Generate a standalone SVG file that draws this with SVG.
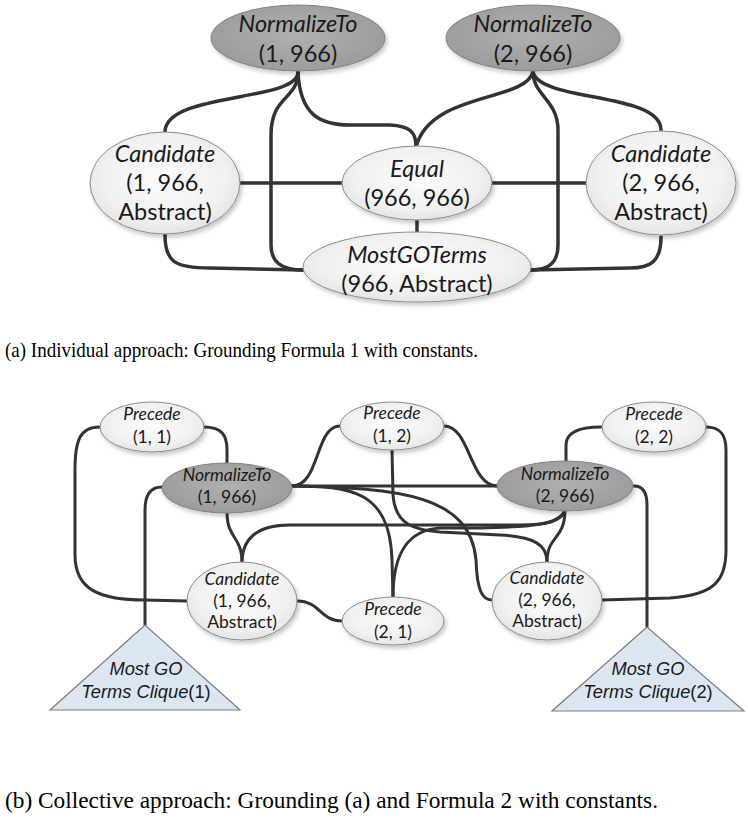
<svg xmlns="http://www.w3.org/2000/svg" width="748" height="822" viewBox="0 0 748 822">
<defs>
<radialGradient id="gl" cx="50%" cy="45%" r="60%">
<stop offset="0%" stop-color="#fcfcfc"/><stop offset="70%" stop-color="#f0f0f0"/><stop offset="100%" stop-color="#e0e0e0"/>
</radialGradient>
<radialGradient id="gd" cx="50%" cy="45%" r="60%">
<stop offset="0%" stop-color="#b0b0b0"/><stop offset="100%" stop-color="#9a9a9a"/>
</radialGradient>
<filter id="sh" x="-20%" y="-20%" width="140%" height="150%">
<feDropShadow dx="2" dy="3" stdDeviation="2" flood-color="#000" flood-opacity="0.22"/>
</filter>
</defs>
<style>
.lt{fill:url(#gl);stroke:#8c8c8c;stroke-width:1;filter:url(#sh)}
.dk{fill:url(#gd);stroke:#808080;stroke-width:1;filter:url(#sh)}
.tri{fill:#dce6f2;stroke:#7f7f7f;stroke-width:1.2}
.ea path{fill:none;stroke:#333;stroke-width:3.5;stroke-linecap:round}
.eb path{fill:none;stroke:#333;stroke-width:3;stroke-linecap:round}
.ta{font-family:Lato,"Liberation Sans",sans-serif;font-size:23.5px;fill:#1a1a1a;text-anchor:middle}
.tb{font-family:Lato,"Liberation Sans",sans-serif;font-size:17.5px;fill:#1a1a1a;text-anchor:middle}
.tt{font-family:"Liberation Sans",Arial,sans-serif;font-size:18.3px;fill:#1a1a1a;text-anchor:middle}
.i{font-style:italic}
.cap{font-family:"Liberation Serif","Times New Roman",serif;fill:#000}
</style>

<g id="edges-a" class="ea">
<path d="M298,72 C298,102 165,92 165,132"/>
<path d="M298,72 C298,100 271,95 271,135 L271,245 C271,262 281,270 303,270"/>
<path d="M298,72 C300,115 320,125 350,125 L390,125 C410,126 416,132 416,147"/>
<path d="M533,72 C525,102 430,92 416,147"/>
<path d="M533,72 C533,95 558,100 558,130 L558,245 C558,262 550,270 531,270"/>
<path d="M533,72 C540,102 661,92 661,130"/>
<path d="M165,235 C165,262 175,268 210,268 L303,270"/>
<path d="M661,237 C661,262 650,268 630,268 L531,270"/>
<path d="M240,183 L342,183"/>
<path d="M492,183 L587,183"/>
<path d="M417,220 L417,232"/>
</g>

<g id="a-norm1"><ellipse class="dk" cx="298" cy="38" rx="87" ry="33"/><text class="ta i" x="298" y="32">NormalizeTo</text><text class="ta" x="298" y="62">(1, 966)</text></g>
<g id="a-norm2"><ellipse class="dk" cx="533" cy="38" rx="87" ry="33"/><text class="ta i" x="533" y="32">NormalizeTo</text><text class="ta" x="533" y="62">(2, 966)</text></g>
<g id="a-cand1"><ellipse class="lt" cx="165" cy="183" rx="75" ry="51"/><text class="ta i" x="165" y="162">Candidate</text><text class="ta" x="165" y="191">(1, 966,</text><text class="ta" x="165" y="220">Abstract)</text></g>
<g id="a-equal"><ellipse class="lt" cx="417" cy="183" rx="75" ry="37"/><text class="ta i" x="417" y="177">Equal</text><text class="ta" x="417" y="206">(966, 966)</text></g>
<g id="a-cand2"><ellipse class="lt" cx="661" cy="183" rx="75" ry="52"/><text class="ta i" x="661" y="162">Candidate</text><text class="ta" x="661" y="191">(2, 966,</text><text class="ta" x="661" y="220">Abstract)</text></g>
<g id="a-most"><ellipse class="lt" cx="417" cy="267" rx="114" ry="35"/><text class="ta i" x="417" y="263">MostGOTerms</text><text class="ta" x="417" y="292">(966, Abstract)</text></g>

<text class="cap" x="5" y="357" font-size="21" textLength="473" lengthAdjust="spacingAndGlyphs">(a) Individual approach: Grounding Formula 1 with constants.</text>

<g id="edges-b" class="eb">
<path d="M100,427 C80,427 75,440 75,470 L75,555 C75,590 100,600 145,600 L187,601"/>
<path d="M203,427 C222,427 227,435 227,450 L227,463"/>
<path d="M162,487 C150,487 145,495 145,510 L145,625"/>
<path d="M227,512 C227,540 242,535 242,563"/>
<path d="M292,486 C320,486 315,426 340,426"/>
<path d="M292,486 L497,486"/>
<path d="M292,486 C350,486 390,490 392,560 L393,597"/>
<path d="M292,486 C400,488 470,495 476,560 C477,590 482,600 492,600"/>
<path d="M444,426 C470,426 470,486 497,486"/>
<path d="M392,450 L393,495 C395,525 415,530 440,532 L500,535 C535,537 547,545 547,562"/>
<path d="M601,427 C575,427 566,435 566,445 L566,461"/>
<path d="M634,486 C643,486 647,492 647,505 L647,627"/>
<path d="M565,510 C565,540 547,535 547,562"/>
<path d="M565,510 C562,522 545,525 520,525 L290,525 C255,525 242,540 242,563"/>
<path d="M565,510 C560,525 530,527 480,528 L440,528 C410,530 393,550 393,597"/>
<path d="M297,601 C320,601 320,621 342,621"/>
<path d="M602,600 L670,598 C715,595 726,580 726,550 L726,450 C726,432 718,427 706,427"/>
</g>

<g id="b-prec11"><ellipse class="lt" cx="152" cy="427" rx="52" ry="25"/><text class="tb i" x="152" y="420">Precede</text><text class="tb" x="152" y="443">(1, 1)</text></g>
<g id="b-prec12"><ellipse class="lt" cx="392" cy="426" rx="52" ry="24"/><text class="tb i" x="392" y="419">Precede</text><text class="tb" x="392" y="442">(1, 2)</text></g>
<g id="b-prec22"><ellipse class="lt" cx="654" cy="427" rx="52" ry="25"/><text class="tb i" x="654" y="420">Precede</text><text class="tb" x="654" y="443">(2, 2)</text></g>
<g id="b-norm1"><ellipse class="dk" cx="227" cy="488" rx="65" ry="25"/><text class="tb i" x="227" y="481">NormalizeTo</text><text class="tb" x="227" y="503">(1, 966)</text></g>
<g id="b-norm2"><ellipse class="dk" cx="565" cy="486" rx="68" ry="25"/><text class="tb i" x="565" y="480">NormalizeTo</text><text class="tb" x="565" y="502">(2, 966)</text></g>
<g id="b-cand1"><ellipse class="lt" cx="242" cy="601" rx="55" ry="39"/><text class="tb i" x="242" y="585">Candidate</text><text class="tb" x="242" y="607">(1, 966,</text><text class="tb" x="242" y="628">Abstract)</text></g>
<g id="b-cand2"><ellipse class="lt" cx="547" cy="601" rx="55" ry="39"/><text class="tb i" x="547" y="584">Candidate</text><text class="tb" x="547" y="606">(2, 966,</text><text class="tb" x="547" y="627">Abstract)</text></g>
<g id="b-prec21"><ellipse class="lt" cx="393" cy="621" rx="51" ry="24"/><text class="tb i" x="393" y="615">Precede</text><text class="tb" x="393" y="638">(2, 1)</text></g>
<g id="b-tri1"><polygon class="tri" points="145,625 50,710 240,710"/><text class="tt i" x="146" y="675">Most GO</text><text class="tt" x="146" y="698"><tspan class="i">Terms Clique</tspan>(1)</text></g>
<g id="b-tri2"><polygon class="tri" points="647,627 552,711 744,711"/><text class="tt i" x="648" y="675">Most GO</text><text class="tt" x="648" y="698"><tspan class="i">Terms Clique</tspan>(2)</text></g>

<text class="cap" x="5" y="808" font-size="23" textLength="653" lengthAdjust="spacingAndGlyphs">(b) Collective approach: Grounding (a) and Formula 2 with constants.</text>
</svg>
